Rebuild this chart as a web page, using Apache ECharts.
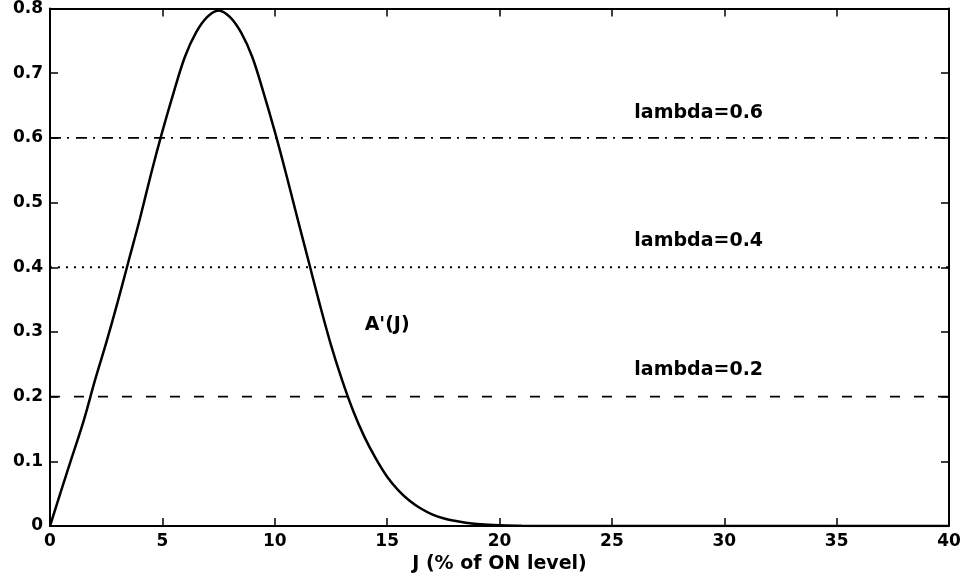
<!DOCTYPE html>
<html>
<head>
<meta charset="utf-8">
<script src="https://cdn.jsdelivr.net/npm/echarts@6/dist/echarts.min.js"></script>
<style>
  html, body { margin: 0; padding: 0; background: #fff; }
  #chart { width: 967px; height: 579px; }
</style>
</head>
<body>
<div id="chart"></div>
<script>
// J values (% of ON level) and the A'(J) curve
const jValues = [0, 0.5, 1, 1.5, 2, 2.5, 3, 3.5, 4, 4.5, 5, 5.5, 6, 6.5, 7, 7.5,
  8, 8.5, 9, 9.5, 10, 10.5, 11, 11.5, 12, 12.5, 13, 13.5, 14, 14.5, 15, 15.5,
  16, 16.5, 17, 17.5, 18, 18.5, 19, 20, 21, 22, 40];
const aValues = [0, 0.055, 0.109, 0.163, 0.225, 0.283, 0.345, 0.41, 0.475, 0.545, 0.61, 0.67, 0.725, 0.763, 0.787, 0.797,
  0.787, 0.763, 0.725, 0.67, 0.61, 0.545, 0.477, 0.41, 0.343, 0.28, 0.225, 0.177, 0.137, 0.104, 0.076, 0.055,
  0.039, 0.027, 0.018, 0.012, 0.008, 0.005, 0.003, 0.001, 0.0003, 0, 0];

// Constant lambda thresholds
const lambdaLevels = [0.6, 0.4, 0.2];
const lambdaNames = ['lambda=0.6', 'lambda=0.4', 'lambda=0.2'];
const lambdaDash = [[11, 6, 2, 7], [2, 6], [10, 14]];

// Text annotations [J, value, text]
const notes = [
  [26.0, 0.639, 'lambda=0.6'],
  [26.0, 0.44, 'lambda=0.4'],
  [26.0, 0.241, 'lambda=0.2'],
  [14.0, 0.31, "A'(J)"]
];

const xTicks = { min: 0, max: 40, step: 5 };
const yTicks = { min: 0, max: 0.8, step: 0.1 };

const FONT = '"DejaVu Sans", sans-serif';
const chart = echarts.init(document.getElementById('chart'), null, { renderer: 'canvas' });

const frameAxis = {
  axisLine: { show: true, onZero: false, lineStyle: { color: '#000', width: 2 } },
  axisTick: { show: true, inside: true, length: 8, lineStyle: { color: '#000', width: 1.5 } },
  splitLine: { show: false }
};

const series = [{
  type: 'line',
  name: "A'(J)",
  data: jValues.map((j, i) => [j, aValues[i]]),
  showSymbol: false,
  smooth: 0.35,
  lineStyle: { color: '#000', width: 2.5 },
  z: 5
}];

lambdaLevels.forEach((lv, i) => {
  series.push({
    type: 'line',
    name: lambdaNames[i],
    data: [[xTicks.min, lv], [xTicks.max, lv]],
    showSymbol: false,
    lineStyle: { color: '#000', width: 1.8, type: lambdaDash[i] },
    z: 3
  });
});

chart.setOption({
  backgroundColor: '#fff',
  animation: false,
  grid: { left: 50, right: 18, top: 8, bottom: 53, containLabel: false },
  xAxis: [
    Object.assign({
      type: 'value', min: xTicks.min, max: xTicks.max, interval: xTicks.step,
      position: 'bottom',
      name: 'J (% of ON level)', nameLocation: 'middle', nameGap: 25,
      nameTextStyle: { fontFamily: FONT, fontWeight: 'bold', fontSize: 19, color: '#000' },
      axisLabel: { fontFamily: FONT, fontWeight: 'bold', fontSize: 17, color: '#000', margin: 7 }
    }, frameAxis),
    Object.assign({
      type: 'value', min: xTicks.min, max: xTicks.max, interval: xTicks.step,
      position: 'top', axisLabel: { show: false }
    }, frameAxis)
  ],
  yAxis: [
    Object.assign({
      type: 'value', min: yTicks.min, max: yTicks.max, interval: yTicks.step,
      position: 'left',
      axisLabel: { fontFamily: FONT, fontWeight: 'bold', fontSize: 17, color: '#000', margin: 7,
        formatter: v => (Math.round(v * 10) / 10).toString() }
    }, frameAxis),
    Object.assign({
      type: 'value', min: yTicks.min, max: yTicks.max, interval: yTicks.step,
      position: 'right', axisLabel: { show: false }
    }, frameAxis)
  ],
  series: series
});

// Place the annotation texts at their data coordinates
chart.setOption({
  graphic: notes.map(n => {
    const p = chart.convertToPixel({ xAxisIndex: 0, yAxisIndex: 0 }, [n[0], n[1]]);
    return {
      type: 'text',
      x: p[0], y: p[1],
      z: 10,
      style: {
        text: n[2],
        fill: '#000',
        font: 'bold 19px ' + FONT,
        textAlign: 'left',
        textVerticalAlign: 'middle'
      }
    };
  })
});
</script>
</body>
</html>
